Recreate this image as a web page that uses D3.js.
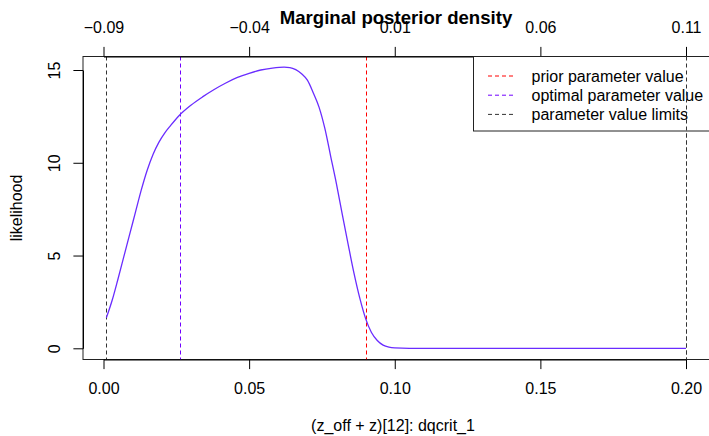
<!DOCTYPE html>
<html><head><meta charset="utf-8">
<script src="https://cdn.jsdelivr.net/npm/d3@7"></script>
<style>
body{margin:0;background:#fff;}
svg{display:block;font-family:"Liberation Sans",Arial,Helvetica,sans-serif;}
</style></head>
<body><svg id="c" width="709" height="436"></svg>
<script>
// ---- data ----
const densX = [0.001,0.003,0.005,0.007,0.009,0.011,0.013,0.015,0.017,0.019,0.021,0.023,0.026,0.030,0.034,0.038,0.042,0.046,0.050,0.054,0.058,0.062,0.064,0.066,0.068,0.070,0.072,0.074,0.076,0.078,0.080,0.082,0.084,0.086,0.088,0.090,0.092,0.094,0.096,0.098,0.100,0.105,0.120,0.150,0.200];
const densY = [1.65,2.6,3.75,4.95,6.15,7.35,8.55,9.6,10.45,11.1,11.6,12.0,12.55,13.1,13.55,13.95,14.3,14.6,14.82,15.0,15.1,15.15,15.13,15.02,14.8,14.45,13.78,13.0,11.85,10.35,8.85,7.2,5.6,4.05,2.7,1.6,0.85,0.42,0.17,0.06,0.02,0.0,0.0,0.0,0.0];
const priorValue = 0.09;
const optimalValue = 0.0262;
const limitValues = [0.001, 0.2];
const xTicks = [0, 0.05, 0.10, 0.15, 0.20];
const xTickLabels = ["0.00","0.05","0.10","0.15","0.20"];
const topTickLabels = ["\u22120.09","\u22120.04","0.01","0.06","0.11"];
const yTicks = [0, 5, 10, 15];
const legendLabels = ["prior parameter value","optimal parameter value","parameter value limits"];
const legendColors = ["#ff0000","#7000ff","#333333"];
const titleText = "Marginal posterior density";
const xLabelText = "(z_off + z)[12]: dqcrit_1";
const yLabelText = "likelihood";

// ---- layout ----
const svg = d3.select("#c");
const box = {l:83, t:56.5, r:716, b:359.5};
const x = d3.scaleLinear().domain([0,0.2]).range([103.5,686]);
const y = d3.scaleLinear().domain([0,15]).range([348.3,70]);
const fs = 16, tick = 9.6;
const cx = (box.l + 709) / 2;

// box
svg.append("rect").attr("x",box.l).attr("y",box.t).attr("width",box.r-box.l).attr("height",box.b-box.t)
  .attr("fill","none").attr("stroke","#222").attr("stroke-width",1);

// vertical reference lines
function vline(v,col){
  svg.append("line").attr("x1",Math.round(x(v))+0.5).attr("x2",Math.round(x(v))+0.5).attr("y1",box.t).attr("y2",box.b)
    .attr("stroke",col).attr("stroke-width",1).attr("stroke-dasharray","4,3");
}
limitValues.forEach(v=>vline(v,legendColors[2]));
vline(optimalValue,legendColors[1]);
vline(priorValue,legendColors[0]);

// curve
const line = d3.line().x((d,i)=>x(densX[i])).y(d=>y(d)).curve(d3.curveMonotoneX);
svg.append("path").attr("d",line(densY)).attr("fill","none").attr("stroke","#6a2cff").attr("stroke-width",1.3);

// bottom axis
const gb = svg.append("g").attr("transform",`translate(0,${box.b})`)
  .call(d3.axisBottom(x).tickValues(xTicks).tickFormat((d,i)=>xTickLabels[i]).tickSize(tick).tickSizeOuter(0).tickPadding(13.5));
// top axis
const gt = svg.append("g").attr("transform",`translate(0,${box.t})`)
  .call(d3.axisTop(x).tickValues(xTicks).tickFormat((d,i)=>topTickLabels[i]).tickSize(tick).tickSizeOuter(0).tickPadding(13.6));
// left axis
const gl = svg.append("g").attr("transform",`translate(${box.l},0)`)
  .call(d3.axisLeft(y).tickValues(yTicks).tickFormat(d3.format("d")).tickSize(tick).tickSizeOuter(0));
[gb,gt,gl].forEach(g=>{
  g.selectAll("path.domain").attr("stroke","#000");
  g.selectAll(".tick line").attr("stroke","#000");
  g.selectAll("text").attr("font-size",fs).attr("font-family","Liberation Sans, Arial, sans-serif").attr("fill","#000");
});
gl.selectAll(".tick text").attr("x",null).attr("dy",null)
  .attr("text-anchor","middle").attr("dominant-baseline","central")
  .attr("transform",function(){return "translate(-29,0) rotate(-90)";});

// title & axis labels
svg.append("text").attr("x",cx).attr("y",23.5).attr("text-anchor","middle")
  .attr("font-weight","bold").attr("font-size",18.6).text(titleText);
svg.append("text").attr("x",cx-3).attr("y",430.5).attr("text-anchor","middle")
  .attr("font-size",fs).text(xLabelText);
svg.append("text").attr("transform",`translate(16,${(box.t+box.b)/2}) rotate(-90)`).attr("text-anchor","middle")
  .attr("dominant-baseline","central").attr("font-size",fs).text(yLabelText);

// legend
const lg = svg.append("g");
lg.append("rect").attr("x",473.5).attr("y",box.t).attr("width",250).attr("height",131-box.t)
  .attr("fill","#fff").attr("stroke","#222").attr("stroke-width",1);
const rowY = [76,95.2,114.4];
legendLabels.forEach((t,i)=>{
  lg.append("line").attr("x1",488).attr("x2",516).attr("y1",rowY[i]).attr("y2",rowY[i])
    .attr("stroke",legendColors[i]).attr("stroke-dasharray","4,3");
  lg.append("text").attr("x",531.5).attr("y",rowY[i]).attr("dominant-baseline","central")
    .attr("font-size",fs).text(t);
});
// upper limit line drawn over legend as in reference
vline(limitValues[1],legendColors[2]);
</script></body></html>
